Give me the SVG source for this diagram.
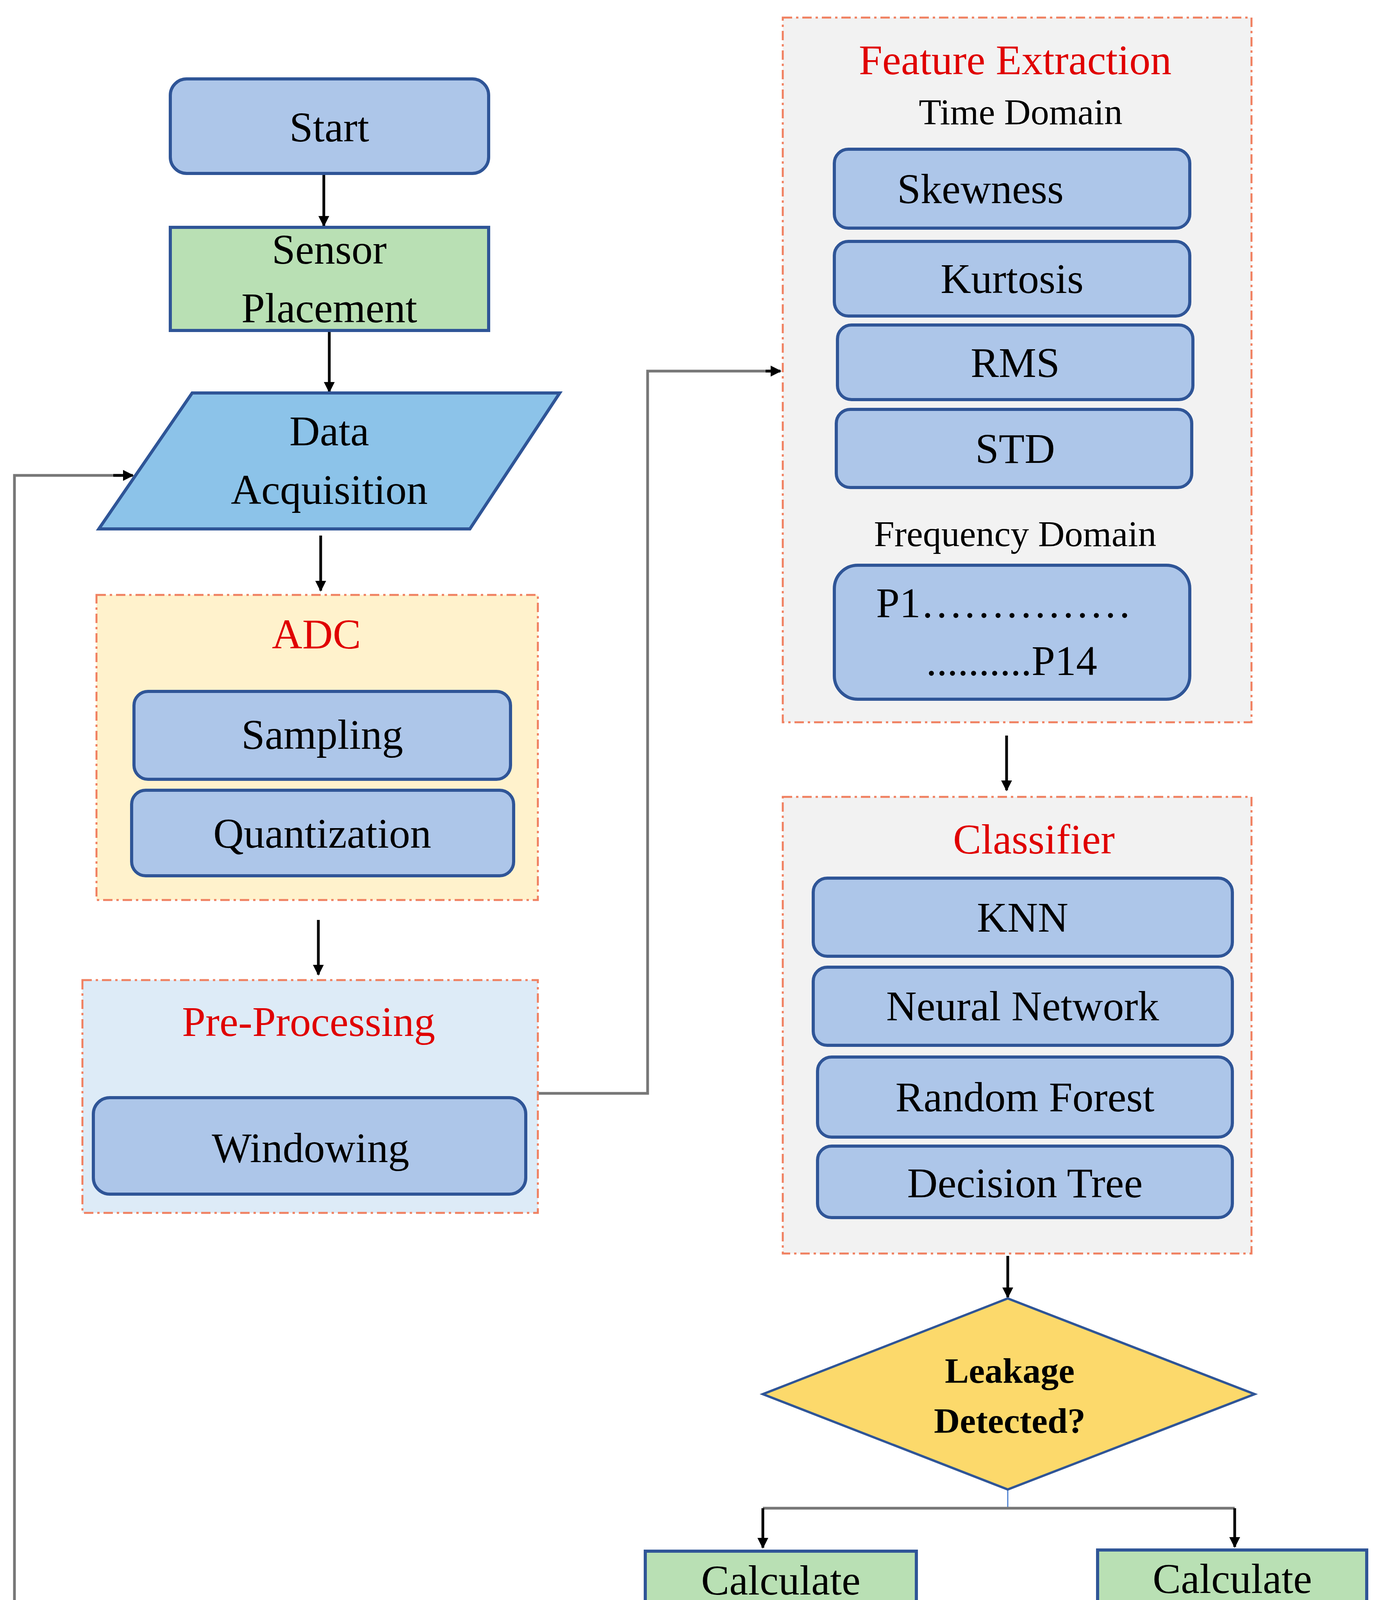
<svg xmlns="http://www.w3.org/2000/svg" width="3533" height="4403" viewBox="0 0 3533 4403">
<style>
.b{fill:#adc6e9;stroke:#2f5597;stroke-width:8}
.g{fill:#b9e0b4;stroke:#2f5597;stroke-width:8}
.grp{stroke:#f08060;stroke-width:5;stroke-dasharray:24 10 6 10}
text{font-family:"Liberation Serif",serif;font-size:108px;fill:#000;text-anchor:middle}
.r{fill:#e00000}
.s{font-size:94px}
.c{stroke:#000;stroke-width:7;fill:none}
.gr{stroke:#777;stroke-width:7;fill:none}
.bl{stroke:#4a7fd0;stroke-width:3;fill:none}
</style>
<defs><marker id="a" viewBox="0 0 10 10" refX="9" refY="5" markerWidth="4" markerHeight="4" orient="auto"><path d="M0,0L10,5L0,10z" fill="#000"/></marker></defs>
<rect width="3533" height="4403" fill="#fff"/>
<g id="connectors">
<path class="c" d="M829,444V578" marker-end="url(#a)"/>
<path class="c" d="M843,846V1003" marker-end="url(#a)"/>
<path class="c" d="M821,1371V1512" marker-end="url(#a)"/>
<path class="c" d="M815,2355V2495" marker-end="url(#a)"/>
<path class="gr" d="M1377,2799H1658V950H1990"/>
<path class="c" d="M1960,950H1998" marker-end="url(#a)"/>
<path class="c" d="M2577,1883V2023" marker-end="url(#a)"/>
<path class="c" d="M2580,3215V3321" marker-end="url(#a)"/>
<path class="bl" d="M2580,3813V3861"/>
<path class="gr" d="M1953,3861H3161"/>
<path class="c" d="M1953,3861V3962" marker-end="url(#a)"/>
<path class="c" d="M3161,3861V3960" marker-end="url(#a)"/>
<path class="bl" d="M3161,4257V4361"/>
<path class="gr" d="M3161,4361H37V1217H310"/>
<path class="c" d="M290,1217H340" marker-end="url(#a)"/>
</g>
<g id="start"><rect class="b" x="436" y="202" width="815" height="242" rx="42"/><text x="843" y="362">Start</text></g>
<g id="sensor"><rect class="g" x="436" y="582" width="815" height="264"/><text x="843" y="675">Sensor</text><text x="843" y="825">Placement</text></g>
<g id="data"><polygon points="492,1006 1433,1006 1203,1354 253,1354" fill="#8cc3e9" stroke="#2f5597" stroke-width="8"/><text x="843" y="1140">Data</text><text x="843" y="1290">Acquisition</text></g>
<g id="adc"><rect class="grp" x="247" y="1523" width="1130" height="781" fill="#fff2cc"/><text class="r" x="810" y="1660">ADC</text>
<rect class="b" x="343" y="1770" width="964" height="225" rx="36"/><text x="825" y="1917">Sampling</text>
<rect class="b" x="337" y="2023" width="978" height="219" rx="36"/><text x="825" y="2170">Quantization</text></g>
<g id="pre"><rect class="grp" x="211" y="2509" width="1166" height="596" fill="#ddebf7"/><text class="r" x="790" y="2652">Pre-Processing</text>
<rect class="b" x="239" y="2810" width="1107" height="247" rx="42"/><text x="795" y="2975">Windowing</text></g>
<g id="feature"><rect class="grp" x="2004" y="45" width="1200" height="1804" fill="#f2f2f2"/>
<text class="r" x="2599" y="190">Feature  Extraction</text><text class="s" x="2613" y="318">Time Domain</text>
<rect class="b" x="2136" y="382" width="910" height="202" rx="36"/><text x="2510" y="520">Skewness</text>
<rect class="b" x="2136" y="618" width="910" height="191" rx="36"/><text x="2591" y="750">Kurtosis</text>
<rect class="b" x="2144" y="832" width="910" height="191" rx="36"/><text x="2599" y="965">RMS</text>
<rect class="b" x="2141" y="1048" width="910" height="200" rx="36"/><text x="2599" y="1185">STD</text>
<text class="s" x="2599" y="1398">Frequency  Domain</text>
<rect class="b" x="2136" y="1447" width="910" height="343" rx="60"/><text x="2570" y="1580">P1……………</text><text x="2590" y="1728">..........P14</text></g>
<g id="classifier"><rect class="grp" x="2004" y="2040" width="1200" height="1169" fill="#f2f2f2"/>
<text class="r" x="2647" y="2185">Classifier</text>
<rect class="b" x="2082" y="2248" width="1073" height="200" rx="36"/><text x="2618" y="2385">KNN</text>
<rect class="b" x="2082" y="2476" width="1073" height="200" rx="36"/><text x="2618" y="2612">Neural  Network</text>
<rect class="b" x="2093" y="2706" width="1062" height="205" rx="36"/><text x="2624" y="2845">Random  Forest</text>
<rect class="b" x="2093" y="2934" width="1062" height="183" rx="36"/><text x="2624" y="3065">Decision  Tree</text></g>
<g id="decision"><polygon points="2580,3324 3212,3569 2580,3813 1953,3569" fill="#fcd96b" stroke="#2f5597" stroke-width="6"/><text x="2585" y="3540" font-weight="bold" style="font-size:92px">Leakage</text><text x="2585" y="3668" font-weight="bold" style="font-size:92px">Detected?</text></g>
<g id="accuracy"><rect class="g" x="1652" y="3971" width="694" height="289"/><text x="1999" y="4082">Calculate</text><text x="1999" y="4232">Accuracy</text></g>
<g id="error"><rect class="g" x="2810" y="3968" width="689" height="289"/><text x="3155" y="4078">Calculate</text><text x="3155" y="4228">Error</text></g>
</svg>
